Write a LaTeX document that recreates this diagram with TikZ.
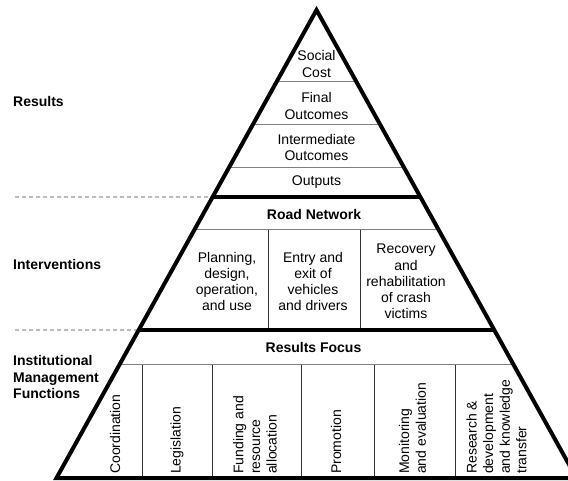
\documentclass[tikz,border=0pt]{standalone}
\usepackage{fontspec}
\setmainfont{Liberation Sans}
\usetikzlibrary{calc}
\begin{document}
\begin{tikzpicture}[x=1pt,y=-1pt,
  lbl/.style={font=\fontsize{14}{16.2}\selectfont, align=center, inner sep=0pt},
  lblbold/.style={lbl, font=\fontsize{14}{16.2}\selectfont\bfseries},
  side/.style={font=\fontsize{14}{16.6}\selectfont\bfseries, align=left, anchor=west, inner sep=0pt},
  vlbl/.style={font=\fontsize{14}{16.6}\selectfont, rotate=90, anchor=west, align=left, inner sep=0pt},
  thinrule/.style={draw=black!50, line width=1pt},
  colrule/.style={draw=black!80, line width=0.9pt},
  bandrule/.style={draw=black, line width=4pt},
  guide/.style={draw=black!75, line width=0.8pt, dash pattern=on 4pt off 3pt}]
\useasboundingbox (0,0) rectangle (568,481);
\clip (0,0) rectangle (568,481);

% pyramid corners
\coordinate (apex) at (316.5,10);
\coordinate (bl) at (56.5,478);
\coordinate (br) at (576.5,478);

% end points of the level lines on both sides of the pyramid
\foreach \n/\y in {sa/82, sb/125, sc/168, ba/197, sd/230, bb/330, se/365} {
  \coordinate (\n L) at ($(apex)!{(\y-10)/468}!(bl)$);
  \coordinate (\n R) at ($(apex)!{(\y-10)/468}!(br)$);
}

% thin separators inside the bands
\draw[thinrule] (saL) -- (saR);
\draw[thinrule] (sbL) -- (sbR);
\draw[thinrule] (scL) -- (scR);
\draw[thinrule] (sdL) -- (sdR);
\draw[thinrule] (seL) -- (seR);

% column rules
\foreach \x in {268,360} \draw[colrule] (\x,230) -- (\x,330);
\foreach \x in {142,212,301,374,455} \draw[colrule] (\x,365) -- (\x,478);

% band boundaries and dashed guides to the labels
\coordinate (ga) at (15,197);
\coordinate (gb) at (15,330);
\draw[guide] (ga) -- (baL);
\draw[guide] (gb) -- (bbL);
\draw[bandrule] (baL) -- (baR);
\draw[bandrule] (bbL) -- (bbR);

% pyramid outline
\draw[bandrule, line join=miter] (apex) -- (bl) -- (br) -- cycle;

% results band
\node[lbl] (social) at (316.5,64) {Social\\Cost};
\node[lbl] (final) at (316.5,106) {Final\\Outcomes};
\node[lbl] (interm) at (316.5,147.5) {Intermediate\\Outcomes};
\node[lbl] (outputs) at (316.5,182) {Outputs};

% interventions band
\node[lblbold] (road) at (314,214) {Road Network};
\node[lbl] (plan) at (227,281.5) {Planning,\\design,\\operation,\\and use};
\node[lbl] (entry) at (313,281.5) {Entry and\\exit of\\vehicles\\and drivers};
\node[lbl] (recov) at (406,281.5) {Recovery\\and\\rehabilitation\\of crash\\victims};

% institutional management functions band
\node[lblbold] (focus) at (313.5,347) {Results Focus};
\node[vlbl] (coord) at (115,474) {Coordination};
\node[vlbl] (legis) at (177,474) {Legislation};
\node[vlbl] (fund) at (255,474) {Funding and\\resource\\allocation};
\node[vlbl] (promo) at (336,474) {Promotion};
\node[vlbl] (monit) at (412.5,474) {Monitoring\\and evaluation};
\node[vlbl] (resea) at (496.5,474) {Research \&\\development\\and knowledge\\transfer};

% band names
\node[side] (results) at (13,101) {Results};
\node[side] (interv) at (13,264) {Interventions};
\node[side] (inst) at (13,377) {Institutional\\Management\\Functions};
\end{tikzpicture}
\end{document}
